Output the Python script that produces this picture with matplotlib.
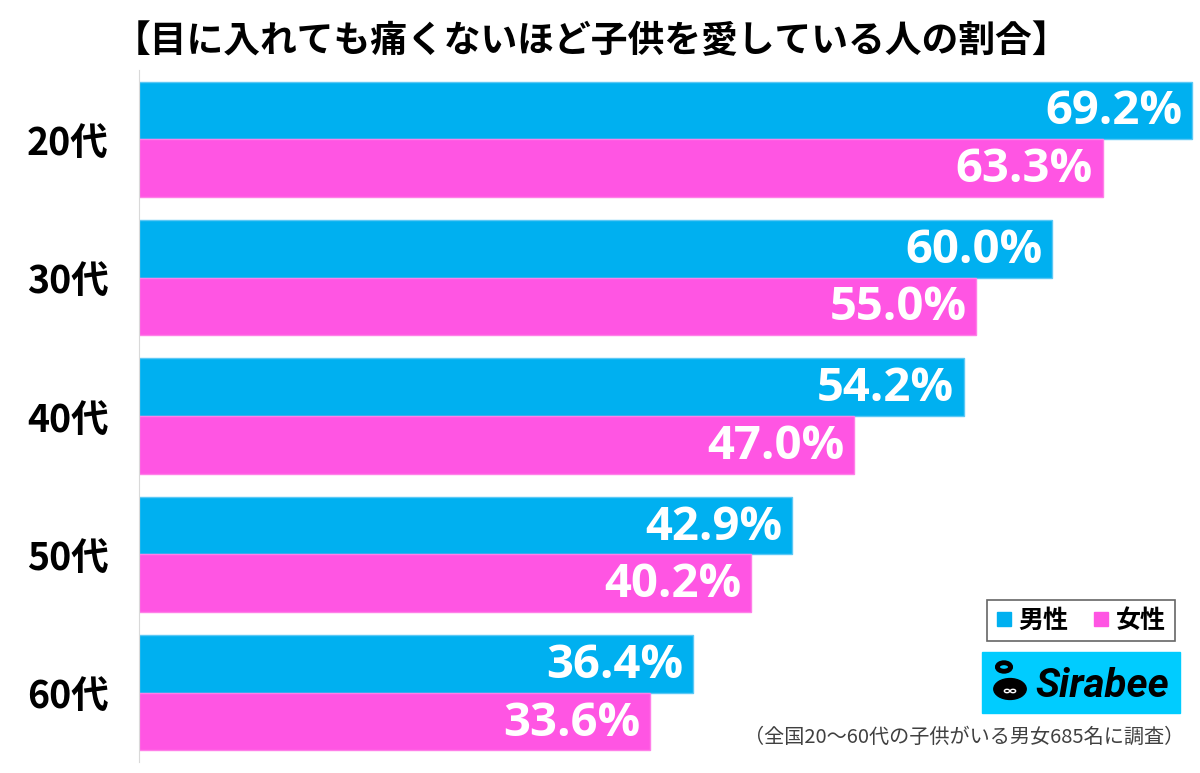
import matplotlib.pyplot as plt
import numpy as np
from matplotlib.lines import Line2D
from matplotlib.patches import Rectangle, Circle

plt.rcParams['font.family'] = ['Noto Sans CJK JP', 'DejaVu Sans']

# data
ages = ["20代", "30代", "40代", "50代", "60代"]
male = [69.2, 60.0, 54.2, 42.9, 36.4]
female = [63.3, 55.0, 47.0, 40.2, 33.6]
series_names = ["男性", "女性"]
title = "【目に入れても痛くないほど子供を愛している人の割合】"
note = "（全国20～60代の子供がいる男女685名に調査）"

blue = "#00B0F0"
pink = "#FF55E3"

fig = plt.figure(figsize=(12, 7.73), dpi=100)
ax = fig.add_axes([0.1158, 0.0142, 0.8817, 0.8952])

y = np.arange(len(ages))
h = 0.416
bm = ax.barh(y - h / 2, male, height=h, color=blue, edgecolor="#5CC8F5", linewidth=1)
bf = ax.barh(y + h / 2, female, height=h, color=pink, edgecolor="#FF7FE8", linewidth=1)

for bars, vals in ((bm, male), (bf, female)):
    for b, v in zip(bars, vals):
        ax.annotate(f"{v:.1f}%", (v, b.get_y() + b.get_height() / 2),
                    xytext=(-7, -1), textcoords="offset points",
                    ha="right", va="center", color="white",
                    fontsize=34, fontweight="bold", family=["Open Sans", "DejaVu Sans"])

ax.set_xlim(0, 69.5)
ax.set_ylim(len(ages) - 0.5, -0.5)
ax.set_yticks(y)
ax.set_yticklabels(ages, fontsize=27, fontweight="bold")
ax.tick_params(axis="y", length=0, pad=22)
ax.set_xticks([])
for s in ("top", "right", "bottom"):
    ax.spines[s].set_visible(False)
ax.spines["left"].set_color("#D9D9D9")

fig.text(0.493, 0.946, title, ha="center", va="center", fontsize=26.5, fontweight="bold")

# legend
handles = [Line2D([], [], marker="s", linestyle="none", markersize=10, color=blue),
           Line2D([], [], marker="s", linestyle="none", markersize=10, color=pink)]
leg = fig.legend(handles, series_names, loc="center", bbox_to_anchor=(0.901, 0.197),
                 ncol=2, frameon=True, fancybox=False, handlelength=0.6,
                 handletextpad=0.3, columnspacing=1.0, borderpad=0.35,
                 prop={"size": 18, "weight": "bold"})
leg.get_frame().set_edgecolor("#404040")
leg.get_frame().set_linewidth(1.2)

# logo
fig.patches.append(Rectangle((982 / 1200, 1 - 713 / 773), 198 / 1200, 61 / 773,
                             transform=fig.transFigure, color="#00CCFF"))
fig.patches.append(Circle((1010 / 1200, 1 - 689 / 773), 0.0135,
                          transform=fig.transFigure, color="black"))
fig.patches.append(Circle((1004 / 1200, 1 - 667 / 773), 0.0055, transform=fig.transFigure,
                          fill=False, edgecolor="black", linewidth=3.5))
fig.patches.append(Circle((1007 / 1200, 1 - 691 / 773), 0.0022, transform=fig.transFigure,
                          fill=False, edgecolor="white", linewidth=1))
fig.patches.append(Circle((1013 / 1200, 1 - 691 / 773), 0.0022, transform=fig.transFigure,
                          fill=False, edgecolor="white", linewidth=1))
fig.text(1102 / 1200, 1 - 686 / 773, "Sirabee", ha="center", va="center", fontsize=29,
         fontweight="bold", style="italic", family=["Roboto", "DejaVu Sans"])

fig.text(0.987, 0.046, note, ha="right", va="center", fontsize=14.5, color="#404040")

fig.savefig("out.png", dpi=100)
